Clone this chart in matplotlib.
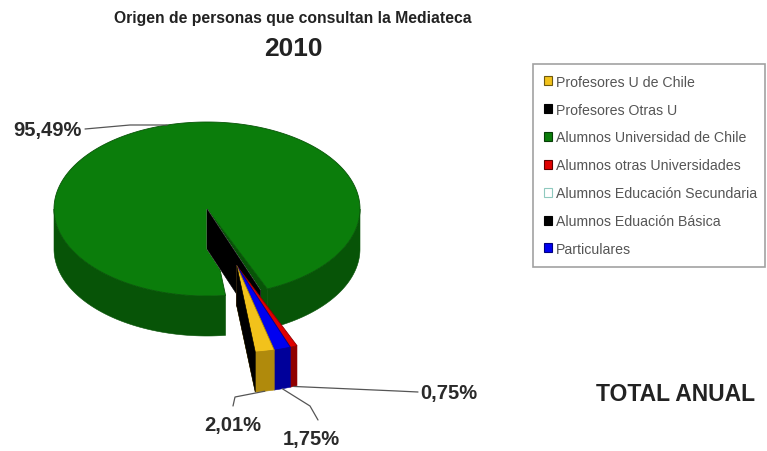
import numpy as np
import matplotlib
matplotlib.use("Agg")
import matplotlib.pyplot as plt
from matplotlib.patches import Polygon, Patch

# ---- data -----------------------------------------------------------------
categories = [
    "Profesores U de Chile",
    "Profesores Otras U",
    "Alumnos Universidad de Chile",
    "Alumnos otras Universidades",
    "Alumnos Educación Secundaria",
    "Alumnos Eduación Básica",
    "Particulares",
]
values = [2.01, 0.0, 95.49, 0.75, 0.0, 0.0, 1.75]
exploded = [True, True, False, True, False, False, True]

top_colors = ["#f2c21b", "#000000", "#0b7d0b", "#e00000", "#ffffff", "#000000", "#0000f0"]
side_colors = ["#b08a0c", "#000000", "#075407", "#900000", "#ffffff", "#000000", "#00009a"]
legend_edges = ["#6e5a10", "#000000", "#063d06", "#600000", "#8fc9bf", "#000000", "#000080"]

title = "Origen de personas que consultan la Mediateca"
subtitle = "2010"
side_note = "TOTAL ANUAL"

# ---- geometry of the 3-D pie (pixel space) --------------------------------
W, H = 767, 452
CX, CY, RX, RY, DEPTH = 207, 210, 153, 87, 40
START = -75.8          # first slice starts here and runs clockwise
EXPLODE = 0.68

fig = plt.figure(figsize=(W / 100, H / 100), dpi=100)
ax = fig.add_axes([0, 0, 1, 1])
ax.set_xlim(0, W)
ax.set_ylim(H, 0)
ax.axis("off")

total = sum(values)
spans = []
acc = 0.0
for v in values:
    hi = START - 360.0 * acc / total
    lo = hi - 360.0 * v / total
    spans.append((lo, hi))
    acc += v


def mid_angle(i):
    lo, hi = spans[i]
    return ((lo + hi) / 2 + 180) % 360 - 180


# common explosion direction: circular mean of the exploded slices
ex_mids = np.deg2rad([mid_angle(i) for i, v in enumerate(values) if exploded[i] and v > 0])
ex_ang = np.arctan2(np.sin(ex_mids).mean(), np.cos(ex_mids).mean())
EX_DX = EXPLODE * RX * np.cos(ex_ang)
EX_DY = -EXPLODE * RY * np.sin(ex_ang)


def pt(theta_deg, r=1.0, off=(0, 0), z=0.0):
    t = np.deg2rad(theta_deg)
    return (CX + off[0] + r * RX * np.cos(t), CY + off[1] - r * RY * np.sin(t) + z)


def arc(a0, a1, off, z=0.0, n=None):
    n = n or max(4, int(abs(a1 - a0) * 1.5))
    return [pt(a, 1.0, off, z) for a in np.linspace(a0, a1, n)]


def offset_of(i):
    return (EX_DX, EX_DY) if exploded[i] else (0.0, 0.0)


def draw_face(i, theta, color):
    off = offset_of(i)
    quad = [pt(theta, 0, off), pt(theta, 1, off), pt(theta, 1, off, DEPTH), pt(theta, 0, off, DEPTH)]
    ax.add_patch(Polygon(quad, closed=True, facecolor=color, edgecolor=color, lw=0.4))


def draw_slice(i):
    lo, hi = spans[i]
    off = offset_of(i)
    # visible radial cut faces
    if np.sin(np.deg2rad(hi + 90)) < 0:
        draw_face(i, hi, side_colors[i])
    if np.sin(np.deg2rad(lo - 90)) < 0:
        draw_face(i, lo, side_colors[i])
    # front part of the curved outer wall
    for k in range(-3, 3):
        a0, a1 = max(lo, -180 + 360 * k), min(hi, 360 * k)
        if a1 > a0:
            poly = arc(a0, a1, off) + arc(a1, a0, off, DEPTH)
            ax.add_patch(Polygon(poly, closed=True, facecolor=side_colors[i],
                                 edgecolor=side_colors[i], lw=0.4))
    # top face
    top = [pt(hi, 0, off)] + arc(hi, lo, off)
    ax.add_patch(Polygon(top, closed=True, facecolor=top_colors[i],
                         edgecolor=side_colors[i], lw=0.6))


def zero_plane_visible(i):
    theta = spans[i][0]
    step = 1 if np.cos(np.deg2rad(theta)) > 0 else -1
    j = (i + step) % len(values)
    while values[j] == 0:
        j = (j + step) % len(values)
    return exploded[i] != exploded[j]


nonzero = [i for i, v in enumerate(values) if v > 0]
# far, unexploded slices first
for i in nonzero:
    if not exploded[i]:
        draw_slice(i)
for i, v in enumerate(values):
    if v == 0 and not exploded[i] and zero_plane_visible(i):
        draw_face(i, spans[i][0], top_colors[i])

# exploded pieces, right to left
items = [i for i in range(len(values)) if exploded[i]]
items.sort(key=lambda i: -np.cos(np.deg2rad(mid_angle(i))))
for i in items:
    if values[i] > 0:
        draw_slice(i)
    elif zero_plane_visible(i):
        draw_face(i, spans[i][0], top_colors[i])

# ---- percentage labels ------------------------------------------------------
label_style = dict(fontsize=14.5, fontweight="bold", color="#2a2a2a", family="Liberation Sans")
label_pos = {0: (233, 426), 2: (82, 131), 3: (420, 394), 6: (311, 440)}
label_ha = {0: "center", 2: "right", 3: "left", 6: "center"}
elbows = {0: [(235, 398), (233, 407)], 2: [(130, 126)], 3: [(397, 392)], 6: [(310, 407), (318, 421)]}

for i, (tx, ty) in label_pos.items():
    mid = mid_angle(i)
    if np.sin(np.deg2rad(mid)) < 0:
        anchor = pt(mid, 1.0, offset_of(i), DEPTH)
    else:
        anchor = pt(mid, 1.0, offset_of(i))
    path = [anchor] + elbows[i]
    if label_ha[i] == "right":
        path.append((tx + 3, ty - 1))
    elif label_ha[i] == "left":
        path.append((tx - 2, ty - 1))
    xs, ys = zip(*path)
    ax.plot(xs, ys, color="#555555", lw=0.9, solid_capstyle="round")
    txt = f"{values[i]:.2f}".replace(".", ",") + "%"
    ax.text(tx, ty, txt, ha=label_ha[i], va="center", **label_style)

# ---- titles -----------------------------------------------------------------
ax.text(293, 18, title, ha="center", va="center", fontsize=11.3, fontweight="bold",
        color="#222222", family="Liberation Sans")
ax.text(293, 49, subtitle, ha="center", va="center", fontsize=19, fontweight="bold",
        color="#222222", family="Liberation Sans")
ax.text(676, 395, side_note, ha="center", va="center", fontsize=16.5, fontweight="bold",
        color="#222222", family="Liberation Sans")

# ---- legend -----------------------------------------------------------------
handles = [Patch(facecolor=top_colors[i], edgecolor=legend_edges[i], lw=0.8)
           for i in range(len(categories))]
leg = fig.legend(handles, categories, loc="upper left",
                 bbox_to_anchor=(533 / W, 1 - 65 / H - 0.01, 232 / W, 0.01), mode="expand",
                 frameon=True, fancybox=False, borderaxespad=0, borderpad=0.75,
                 labelspacing=0.98, handlelength=0.6, handleheight=0.6,
                 handletextpad=0.25, prop={"family": "Liberation Sans", "size": 10.2})
leg.get_frame().set_edgecolor("#8a8a8a")
leg.get_frame().set_linewidth(1.2)
for t in leg.get_texts():
    t.set_color("#555555")

fig.savefig("out.png", dpi=100)
